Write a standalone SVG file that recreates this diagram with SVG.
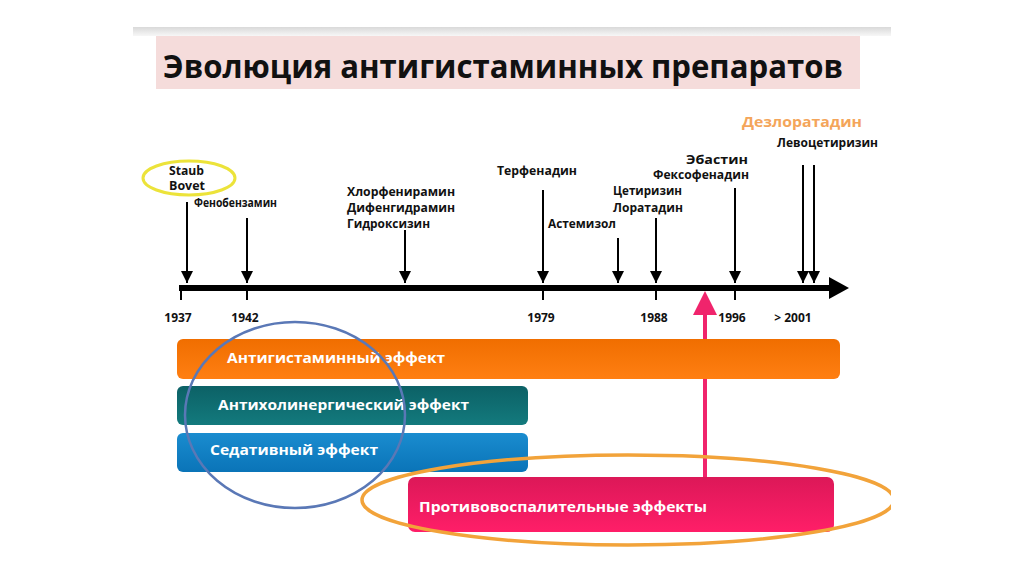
<svg xmlns="http://www.w3.org/2000/svg" width="1024" height="574" viewBox="0 0 1024 574">
  <defs>
    <linearGradient id="gStrip" x1="0" y1="0" x2="0" y2="1">
      <stop offset="0" stop-color="#d9d9d9"/>
      <stop offset="1" stop-color="#f7f7f7"/>
    </linearGradient>
    <linearGradient id="gOrange" x1="0" y1="0" x2="0" y2="1">
      <stop offset="0" stop-color="#f06e00"/>
      <stop offset="1" stop-color="#ff7f12"/>
    </linearGradient>
    <linearGradient id="gTeal" x1="0" y1="0" x2="0" y2="1">
      <stop offset="0" stop-color="#0c6166"/>
      <stop offset="1" stop-color="#137a7d"/>
    </linearGradient>
    <linearGradient id="gBlue" x1="0" y1="0" x2="0" y2="1">
      <stop offset="0" stop-color="#1a8ccf"/>
      <stop offset="1" stop-color="#0a74b8"/>
    </linearGradient>
    <linearGradient id="gPink" x1="0" y1="0" x2="0" y2="1">
      <stop offset="0" stop-color="#dc1858"/>
      <stop offset="1" stop-color="#ff1e68"/>
    </linearGradient>
    <clipPath id="slideClip">
      <rect x="133" y="27" width="758" height="520"/>
    </clipPath>
    <marker id="ah" markerUnits="userSpaceOnUse" markerWidth="13" markerHeight="12" refX="12" refY="6" orient="auto" viewBox="0 0 13 12">
      <path d="M0,0 L12,6 L0,12 Z" fill="#000"/>
    </marker>
  </defs>
  <style>
    text { font-family: "Open Sans", "Liberation Sans", sans-serif; font-weight: bold; }
    .lbl { font-size: 12.5px; fill: #111; }
    .yr { font-size: 12px; fill: #111; }
    .bar { font-size: 14.5px; fill: #fff; }
    .arr { stroke: #000; stroke-width: 2; fill: none; }
    .tick { stroke: #000; stroke-width: 2; }
  </style>

  <rect width="1024" height="574" fill="#fff"/>

  <g id="slide-frame">
    <rect x="133" y="27" width="758" height="9" fill="url(#gStrip)"/>
  </g>

  <g id="title">
    <rect x="156" y="36" width="704" height="53" fill="#f5dcdb"/>
    <text x="163" y="78" font-size="32" fill="#111" textLength="680" lengthAdjust="spacingAndGlyphs">Эволюция антигистаминных препаратов</text>
  </g>

  <g id="timeline">
    <line x1="179" y1="288" x2="832" y2="288" stroke="#000" stroke-width="6"/>
    <polygon points="829,277 849,288 829,299" fill="#000"/>
    <line class="tick" x1="181" y1="290" x2="181" y2="300"/>
    <line class="tick" x1="247" y1="290" x2="247" y2="300"/>
    <line class="tick" x1="543" y1="290" x2="543" y2="300"/>
    <line class="tick" x1="656" y1="290" x2="656" y2="300"/>
    <line class="tick" x1="735" y1="290" x2="735" y2="300"/>
  </g>

  <g id="years">
    <text class="yr" x="178" y="322" text-anchor="middle">1937</text>
    <text class="yr" x="245" y="322" text-anchor="middle">1942</text>
    <text class="yr" x="541" y="322" text-anchor="middle">1979</text>
    <text class="yr" x="654" y="322" text-anchor="middle">1988</text>
    <text class="yr" x="732" y="322" text-anchor="middle">1996</text>
    <text class="yr" x="793" y="322" text-anchor="middle">&gt; 2001</text>
  </g>

  <g id="connectors">
    <line class="arr" x1="187" y1="202" x2="187" y2="283" marker-end="url(#ah)"/>
    <line class="arr" x1="247" y1="218" x2="247" y2="283" marker-end="url(#ah)"/>
    <line class="arr" x1="405" y1="230" x2="405" y2="283" marker-end="url(#ah)"/>
    <line class="arr" x1="543" y1="190" x2="543" y2="283" marker-end="url(#ah)"/>
    <line class="arr" x1="618" y1="238" x2="618" y2="283" marker-end="url(#ah)"/>
    <line class="arr" x1="656" y1="218" x2="656" y2="283" marker-end="url(#ah)"/>
    <line class="arr" x1="735" y1="188" x2="735" y2="283" marker-end="url(#ah)"/>
    <line class="arr" x1="803" y1="165" x2="803" y2="283" marker-end="url(#ah)"/>
    <line class="arr" x1="814" y1="165" x2="814" y2="283" marker-end="url(#ah)"/>
    <line x1="705" y1="312" x2="705" y2="478" stroke="#f0246c" stroke-width="4"/>
    <polygon points="693,315 705,291 717,315" fill="#f0246c"/>
  </g>

  <g id="node-staub">
    <ellipse cx="189" cy="178" rx="46" ry="17" fill="none" stroke="#ece33a" stroke-width="3"/>
    <text class="lbl" x="169" y="175" font-size="13" textLength="35" lengthAdjust="spacingAndGlyphs">Staub</text>
    <text class="lbl" x="169" y="190" font-size="13" textLength="36" lengthAdjust="spacingAndGlyphs">Bovet</text>
  </g>
  <g id="node-fenobenzamin">
    <text class="lbl" x="194" y="207" font-size="10.5" textLength="83" lengthAdjust="spacingAndGlyphs">Фенобензамин</text>
  </g>
  <g id="node-chlorphen">
    <text class="lbl" x="347" y="196" textLength="108" lengthAdjust="spacingAndGlyphs">Хлорфенирамин</text>
    <text class="lbl" x="347" y="212" textLength="108" lengthAdjust="spacingAndGlyphs">Дифенгидрамин</text>
    <text class="lbl" x="347" y="228" textLength="83" lengthAdjust="spacingAndGlyphs">Гидроксизин</text>
  </g>
  <g id="node-terfenadin">
    <text class="lbl" x="497" y="175" textLength="80" lengthAdjust="spacingAndGlyphs">Терфенадин</text>
  </g>
  <g id="node-astemizol">
    <text class="lbl" x="548" y="228" textLength="68" lengthAdjust="spacingAndGlyphs">Астемизол</text>
  </g>
  <g id="node-cetirizin">
    <text class="lbl" x="613" y="195" textLength="69" lengthAdjust="spacingAndGlyphs">Цетиризин</text>
    <text class="lbl" x="613" y="212" textLength="70" lengthAdjust="spacingAndGlyphs">Лоратадин</text>
  </g>
  <g id="node-ebastin">
    <text class="lbl" x="686" y="164" font-size="13.5" textLength="62" lengthAdjust="spacingAndGlyphs">Эбастин</text>
    <text class="lbl" x="653" y="179" textLength="96" lengthAdjust="spacingAndGlyphs">Фексофенадин</text>
  </g>
  <g id="node-desloratadin">
    <text x="742" y="127" font-size="15" fill="#f4a55a" textLength="120" lengthAdjust="spacingAndGlyphs">Дезлоратадин</text>
  </g>
  <g id="node-levocetirizin">
    <text class="lbl" x="777" y="147" textLength="101" lengthAdjust="spacingAndGlyphs">Левоцетиризин</text>
  </g>

  <g id="bar-antihistamine">
    <rect x="177" y="339" width="663" height="40" rx="6" fill="url(#gOrange)"/>
    <text class="bar" x="227" y="363" textLength="218" lengthAdjust="spacingAndGlyphs">Антигистаминный эффект</text>
  </g>
  <g id="bar-anticholinergic">
    <rect x="177" y="386" width="351" height="39" rx="6" fill="url(#gTeal)"/>
    <text class="bar" x="218" y="410" textLength="251" lengthAdjust="spacingAndGlyphs">Антихолинергический эффект</text>
  </g>
  <g id="bar-sedative">
    <rect x="177" y="433" width="351" height="39" rx="6" fill="url(#gBlue)"/>
    <text class="bar" x="210" y="455" textLength="168" lengthAdjust="spacingAndGlyphs">Седативный эффект</text>
  </g>
  <g id="bar-antiinflammatory">
    <rect x="408" y="477" width="426" height="55" rx="7" fill="url(#gPink)"/>
    <text class="bar" x="419" y="512" textLength="288" lengthAdjust="spacingAndGlyphs">Противовоспалительные эффекты</text>
  </g>

  <g id="highlight-blue">
    <ellipse cx="295" cy="415" rx="110" ry="93" fill="none" stroke="#5a78b6" stroke-width="2.5"/>
  </g>
  <g id="highlight-orange" clip-path="url(#slideClip)">
    <ellipse cx="628" cy="500" rx="266" ry="45" fill="none" stroke="#f2a33a" stroke-width="3.5"/>
  </g>
</svg>
